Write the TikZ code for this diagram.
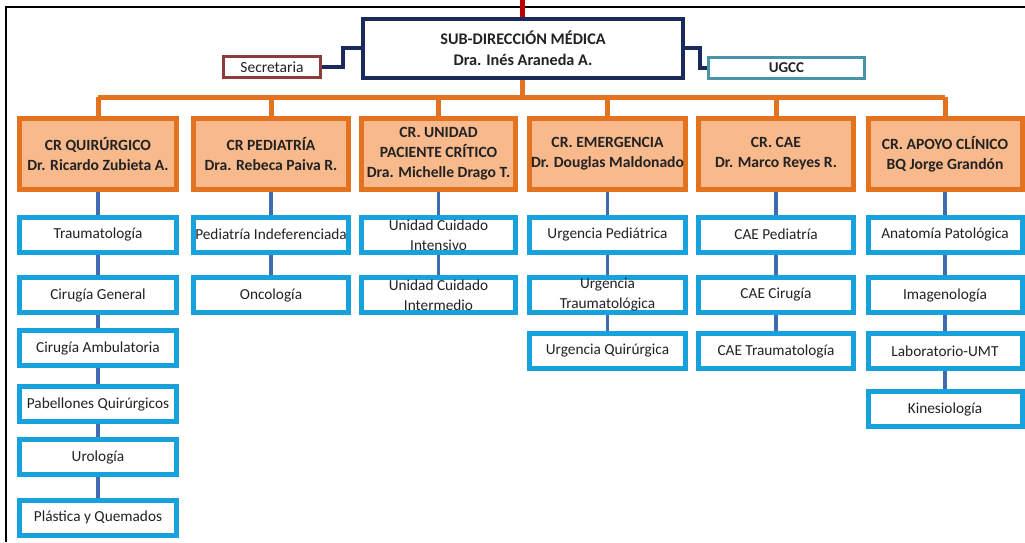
\documentclass[tikz,border=0pt]{standalone}
\usepackage{fontspec}
\setmainfont{Carlito}
\definecolor{navy}{HTML}{1B2A5C}
\definecolor{secred}{HTML}{8E3B3B}
\definecolor{tealb}{HTML}{4A94A8}
\definecolor{orbord}{HTML}{E3731F}
\definecolor{orfill}{HTML}{F8B98C}
\definecolor{cyanb}{HTML}{17A2DE}
\definecolor{linkb}{HTML}{3F6CB0}
\definecolor{txt}{HTML}{222222}
\tikzset{
  crbox/.style={draw=orbord, fill=orfill, line width=5pt, minimum height=71pt,
    inner sep=0pt, align=center, text=txt,
    font=\bfseries\fontsize{15.6}{20}\selectfont},
  unitbox/.style={draw=cyanb, fill=white, line width=5pt, minimum height=35pt,
    inner sep=0pt, align=center, text=txt,
    font=\fontsize{15.3}{20}\selectfont},
  bus/.style={draw=orbord, line width=5pt},
  link/.style={draw=linkb, line width=3.5pt},
  staff/.style={draw=navy, line width=4pt},
}
\begin{document}
\begin{tikzpicture}[x=1pt,y=-1pt]
\useasboundingbox (0,0) rectangle (1025,542);
% page frame
\draw[black, line width=2pt] (6,542) -- (6,7) -- (1025,7);

% top of the chart
\node[draw=navy, line width=4pt, fill=white, minimum width=320pt, minimum height=59pt,
  inner sep=0pt, align=center, text=txt, font=\bfseries\fontsize{16.2}{21}\selectfont]
  (sub) at (523,48.5) {SUB-DIRECCIÓN MÉDICA\\Dra. Inés Araneda A.};
\node[draw=secred, line width=3pt, fill=white, minimum width=97pt, minimum height=21pt,
  inner sep=0pt, text=txt, font=\fontsize{15.5}{16}\selectfont]
  (sec) at (272,67) {Secretaria};
\node[draw=tealb, line width=3pt, fill=white, minimum width=156pt, minimum height=21pt,
  inner sep=0pt, text=txt, font=\bfseries\fontsize{15}{16}\selectfont]
  (ugcc) at (786.5,68) {UGCC};
\coordinate (feed) at (522,0);
\draw[draw=red!75!black, line width=5pt] (feed) -- (sub.north -| feed);
\draw[staff] (sec.east) -| (343,48) -- (sub.west |- 0,48);
\draw[staff] (sub.east |- 0,48) -| (700,68) -- (ugcc.west);

% centres of responsibility
\node[crbox, minimum width=157pt] (cr1) at (98,154)   {CR QUIRÚRGICO\\Dr. Ricardo Zubieta A.};
\node[crbox, minimum width=155pt] (cr2) at (271,154)  {CR PEDIATRÍA\\Dra. Rebeca Paiva R.};
\node[crbox, minimum width=154pt] (cr3) at (438.5,154){CR. UNIDAD\\PACIENTE CRÍTICO\\Dra. Michelle Drago T.};
\node[crbox, minimum width=156pt] (cr4) at (607.5,154){CR. EMERGENCIA\\Dr. Douglas Maldonado};
\node[crbox, minimum width=155pt] (cr5) at (776,154)  {CR. CAE\\Dr. Marco Reyes R.};
\node[crbox, minimum width=154pt] (cr6) at (945,154)  {CR. APOYO CLÍNICO\\BQ Jorge Grandón};

\coordinate (busy) at (0,97);
\draw[bus] (sub.south -| feed) -- (feed |- busy);
\draw[bus] (cr1.north |- busy) -- (cr6.north |- busy);
\foreach \c in {cr1,cr2,cr3,cr4,cr5,cr6}
  \draw[bus] (\c.north |- busy) -- (\c.north);

% units of CR Quirúrgico
\node[unitbox, minimum width=157pt] (q1) at (98,234.5) {Traumatología};
\node[unitbox, minimum width=157pt] (q2) at (98,295)   {Cirugía General};
\node[unitbox, minimum width=157pt] (q3) at (98,348)   {Cirugía Ambulatoria};
\node[unitbox, minimum width=157pt] (q4) at (98,404)   {Pabellones Quirúrgicos};
\node[unitbox, minimum width=157pt] (q5) at (98,457)   {Urología};
\node[unitbox, minimum width=157pt] (q6) at (98,517.5) {Plástica y Quemados};
% units of CR Pediatría
\node[unitbox, minimum width=155pt] (p1) at (271,234.5) {Pediatría Indeferenciada};
\node[unitbox, minimum width=155pt] (p2) at (271,295)   {Oncología};
% units of CR Unidad Paciente Crítico
\node[unitbox, minimum width=154pt] (u1) at (438.5,235) {Unidad Cuidado\\Intensivo};
\node[unitbox, minimum width=154pt] (u2) at (438.5,295) {Unidad Cuidado\\Intermedio};
% units of CR Emergencia
\node[unitbox, minimum width=156pt] (e1) at (607.5,234.5) {Urgencia Pediátrica};
\node[unitbox, minimum width=156pt] (e2) at (607.5,295)   {Urgencia\\Traumatológica};
\node[unitbox, minimum width=156pt] (e3) at (607.5,351)   {Urgencia Quirúrgica};
% units of CR CAE
\node[unitbox, minimum width=155pt] (c1) at (776,234.5) {CAE Pediatría};
\node[unitbox, minimum width=155pt] (c2) at (776,295)   {CAE Cirugía};
\node[unitbox, minimum width=155pt] (c3) at (776,351)   {CAE Traumatología};
% units of CR Apoyo Clínico
\node[unitbox, minimum width=154pt] (a1) at (945,234.5) {Anatomía Patológica};
\node[unitbox, minimum width=154pt] (a2) at (945,295)   {Imagenología};
\node[unitbox, minimum width=154pt] (a3) at (945,351)   {Laboratorio-UMT};
\node[unitbox, minimum width=154pt] (a4) at (945,409)   {Kinesiología};

% links down each column
\foreach \a/\b in {cr1/q1,q1/q2,q2/q3,q3/q4,q4/q5,q5/q6,
                   cr2/p1,p1/p2,
                   cr3/u1,u1/u2,
                   cr4/e1,e1/e2,e2/e3,
                   cr5/c1,c1/c2,c2/c3,
                   cr6/a1,a1/a2,a2/a3,a3/a4}
  \draw[link] (\a.south) -- (\b.north);
\end{tikzpicture}
\end{document}
